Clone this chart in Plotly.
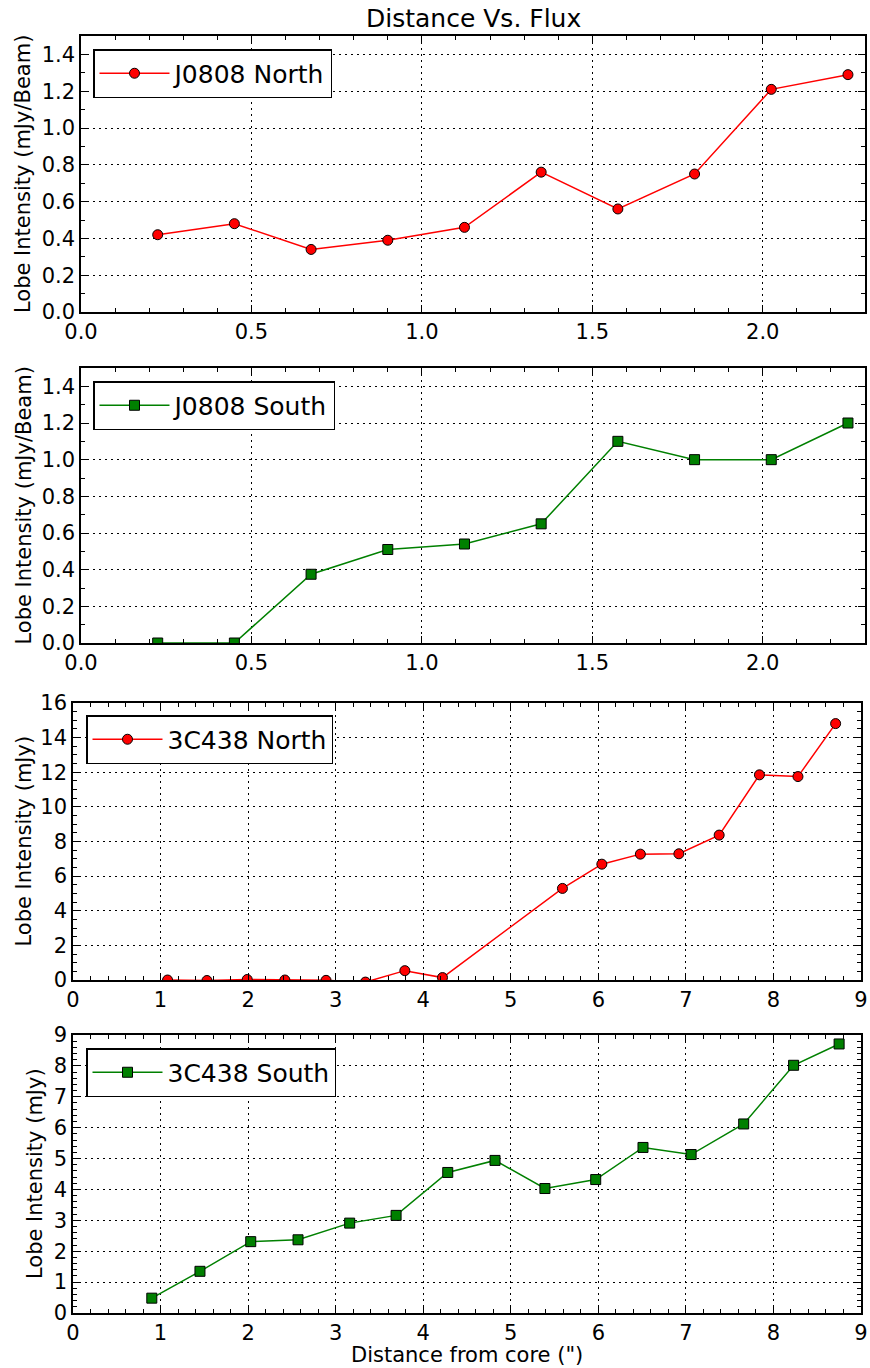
import plotly.graph_objects as go

# ---- data ----
j0808_x = [0.225, 0.45, 0.675, 0.9, 1.125, 1.35, 1.575, 1.8, 2.025, 2.25]
j0808_north = [0.42, 0.48, 0.34, 0.39, 0.46, 0.76, 0.56, 0.75, 1.21, 1.29]
j0808_south = [0.0, 0.0, 0.375, 0.51, 0.54, 0.65, 1.10, 1.00, 1.00, 1.20]

c438n_x = [1.08, 1.53, 1.99, 2.42, 2.89, 3.34, 3.79, 4.22, 5.59, 6.04, 6.48, 6.92, 7.38, 7.84, 8.28, 8.71]
c438n_y = [0.0, -0.03, 0.03, 0.0, -0.02, -0.12, 0.54, 0.14, 5.29, 6.69, 7.27, 7.29, 8.37, 11.85, 11.75, 14.81]

c438s_x = [0.90, 1.45, 2.03, 2.57, 3.16, 3.69, 4.28, 4.82, 5.39, 5.97, 6.51, 7.06, 7.66, 8.23, 8.75]
c438s_y = [0.48, 1.35, 2.31, 2.37, 2.91, 3.16, 4.55, 4.94, 4.03, 4.32, 5.36, 5.13, 6.12, 8.02, 8.71]

labels = ["J0808 North", "J0808 South", "3C438 North", "3C438 South"]
ylabels = ["Lobe Intensity (mJy/Beam)", "Lobe Intensity (mJy/Beam)",
           "Lobe Intensity (mJy)", "Lobe Intensity (mJy)"]
title = "Distance Vs. Flux"
xlabel = "Distance from core (\")"

W, H = 870, 1368
FONT = "DejaVu Sans"

# pixel boxes of each panel: (left, right, top, bottom)
boxes = [(81, 865, 36, 312), (81, 865, 368, 643), (73, 861, 703, 980), (73, 861, 1035, 1313)]
xranges = [[0, 2.3], [0, 2.3], [0, 9], [0, 9]]
yranges = [[0, 1.5], [0, 1.5], [0, 16], [0, 9]]
xdt = [0.5, 0.5, 1, 1]
xminor = [0.1, 0.1, 0.2, 0.2]
ydt = [0.2, 0.2, 2, 1]
yminor = [0.1, 0.1, 0.5, 0.2]
xfmt = [".1f", ".1f", "d", "d"]
yfmt = [".1f", ".1f", "d", "d"]
legend_pos = [(93, 49), (93, 381), (86, 715), (86, 1048)]
ylabel_x = [23, 23, 23, 35]

series = [
    (j0808_x, j0808_north, "red", "circle"),
    (j0808_x, j0808_south, "green", "square"),
    (c438n_x, c438n_y, "red", "circle"),
    (c438s_x, c438s_y, "green", "square"),
]

fig = go.Figure()
layout = dict(width=W, height=H, margin=dict(l=0, r=0, t=0, b=0),
              paper_bgcolor="white", plot_bgcolor="white",
              font=dict(family=FONT, size=21, color="black"),
              showlegend=True)
annotations = []

for i in range(4):
    l, r, t, b = boxes[i]
    sfx = "" if i == 0 else str(i + 1)
    xs, ys, col, sym = series[i]
    leg = "legend" if i == 0 else "legend" + str(i + 1)
    fig.add_trace(go.Scatter(
        x=xs, y=ys, mode="lines+markers", name=labels[i],
        line=dict(color=col, width=1.5),
        marker=dict(symbol=sym, size=10, color=col, line=dict(color="black", width=1)),
        xaxis="x" + sfx, yaxis="y" + sfx, legend=leg, cliponaxis=True,
    ))
    common = dict(showline=True, linecolor="black", linewidth=1.5, mirror="allticks",
                  ticks="inside", ticklen=7, tickwidth=1, tickcolor="black",
                  showgrid=True, gridcolor="black", gridwidth=1, griddash="2px,4px",
                  zeroline=False, automargin=False,
                  tickfont=dict(family=FONT, size=21, color="black"))
    layout["xaxis" + sfx] = dict(
        common, domain=[l / W, r / W], anchor="y" + sfx, range=xranges[i],
        tick0=0, dtick=xdt[i], tickformat=xfmt[i],
        minor=dict(ticks="inside", ticklen=4, tickwidth=1, tickcolor="black",
                   tick0=0, dtick=xminor[i], showgrid=False),
    )
    layout["yaxis" + sfx] = dict(
        common, domain=[1 - b / H, 1 - t / H], anchor="x" + sfx, range=yranges[i],
        tick0=0, dtick=ydt[i], tickformat=yfmt[i],
        minor=dict(ticks="inside", ticklen=4, tickwidth=1, tickcolor="black",
                   tick0=0, dtick=yminor[i], showgrid=False),
    )
    lx, ly = legend_pos[i]
    layout[leg] = dict(x=lx / W, y=1 - ly / H, xanchor="left", yanchor="top",
                       xref="paper", yref="paper",
                       bgcolor="white", bordercolor="black", borderwidth=1.5,
                       font=dict(family=FONT, size=25, color="black"),
                       itemwidth=70)
    annotations.append(dict(text=ylabels[i], textangle=-90, x=ylabel_x[i] / W,
                            y=1 - (t + b) / 2 / H, xref="paper", yref="paper",
                            xanchor="center", yanchor="middle", showarrow=False,
                            font=dict(family=FONT, size=21, color="black")))

annotations.append(dict(text=title, x=473 / W, y=1 - 18 / H, xref="paper", yref="paper",
                        xanchor="center", yanchor="middle", showarrow=False,
                        font=dict(family=FONT, size=25, color="black")))
annotations.append(dict(text=xlabel, x=467 / W, y=0, xref="paper", yref="paper",
                        xanchor="center", yanchor="bottom", showarrow=False, borderpad=0,
                        font=dict(family=FONT, size=21, color="black")))
layout["annotations"] = annotations
fig.update_layout(**layout)
fig.write_html("out.html")
